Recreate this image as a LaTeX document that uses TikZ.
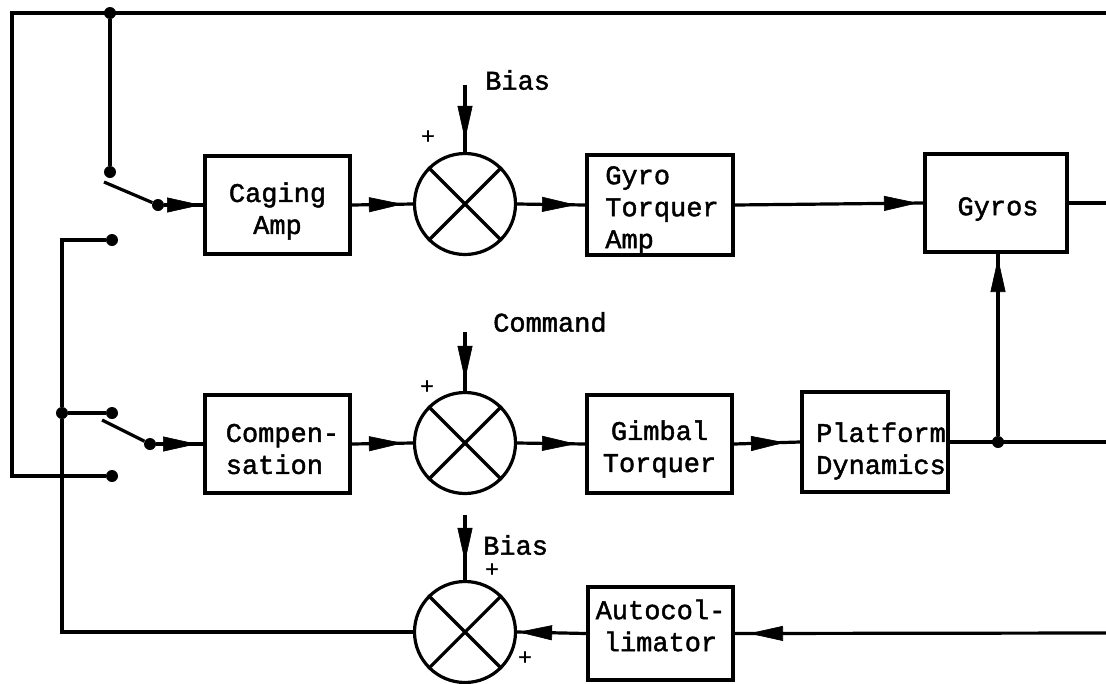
\documentclass[tikz,border=0pt]{standalone}
\usepackage{fontspec}
\newfontfamily\tw{Liberation Mono}[FakeBold=1.6]
\usetikzlibrary{arrows.meta,decorations.markings}

\tikzset{
  wire/.style={line width=3.2pt},
  blk/.style={draw, line width=4pt, rectangle, inner sep=0pt},
  txt/.style={font=\tw\fontsize{27}{32}\selectfont, inner sep=0pt},
  sumj/.style={draw, circle, line width=3.2pt, minimum size=101pt, inner sep=0pt},
  dot/.style={circle, fill, inner sep=0pt, minimum size=12pt},
  pls/.style={font=\tw\fontsize{22}{22}\selectfont, inner sep=0pt},
  arr/.style={postaction={decorate}, decoration={markings,
    mark=at position #1 with {\arrow{Triangle[length=34pt,width=15pt,line width=0.6pt]}}}},
}

\newcommand{\crossout}[1]{%
  \draw[line width=3.2pt] (#1.45) -- (#1.225) (#1.135) -- (#1.315);}

\begin{document}
\begin{tikzpicture}[x=1pt,y=-1pt]
\useasboundingbox (0,0) rectangle (1106,683);

% blocks
\node[blk, minimum width=145pt, minimum height=98pt] (cage) at (277.5,205) {};
\node[blk, minimum width=146pt, minimum height=100pt] (gta) at (660,205) {};
\node[blk, minimum width=142pt, minimum height=98pt] (gyros) at (996,203) {};
\node[blk, minimum width=145pt, minimum height=98pt] (comp) at (277.5,444) {};
\node[blk, minimum width=145pt, minimum height=98pt] (gim) at (659.5,444) {};
\node[blk, minimum width=146pt, minimum height=100pt] (plat) at (875,442) {};
\node[blk, minimum width=145pt, minimum height=93pt] (auto) at (660.5,633.5) {};

% block captions
\node[txt, align=center] (tcage) at (277.5,211) {Caging\\Amp};
\node[txt, align=left] (tgta) at (662,210) {Gyro\\Torquer\\Amp};
\node[txt] (tgyros) at (998,209) {Gyros};
\node[txt, align=left] (tcomp) at (282.5,449) {Compen-\\sation};
\node[txt, align=center] (tgim) at (659.5,449) {Gimbal\\Torquer};
\node[txt, align=left] (tplat) at (881,451) {Platform\\Dynamics};
\node[txt, align=center] (tauto) at (660.5,625.5) {Autocol-\\limator};

% summing junctions
\node[sumj] (s1) at (465,204) {};
\node[sumj] (s2) at (465,443) {};
\node[sumj] (s3) at (465,632) {};
\crossout{s1}
\crossout{s2}
\crossout{s3}

% junction and switch-contact dots
\node[dot] (d0) at (110,13) {};
\node[dot] (c1) at (110,172) {};
\node[dot] (p1) at (158,205) {};
\node[dot] (c2) at (112,240) {};
\node[dot] (d1) at (62,413) {};
\node[dot] (c3) at (112,413) {};
\node[dot] (p2) at (150,444) {};
\node[dot] (c4) at (112,476) {};
\node[dot] (d2) at (998,442) {};

% free ends and corners
\coordinate (eTop) at (1106,13);
\coordinate (cTL) at (12,13);
\coordinate (eGy) at (1106,203);
\coordinate (ePl) at (1106,442);
\coordinate (eBot) at (1106,633);
\coordinate (b1) at (104,182);
\coordinate (b2) at (102,420);
\coordinate (in1) at (465,85);
\coordinate (in2) at (465,332);
\coordinate (in3) at (465,515);

% input labels and signs
\node[txt, anchor=west] (lb1) at (485,80) {Bias};
\node[txt, anchor=west] (lb2) at (493,322) {Command};
\node[txt, anchor=west] (lb3) at (483,545) {Bias};
\node[pls] (pl1) at (428,137) {+};
\node[pls] (pl2) at (427,387) {+};
\node[pls] (pl3) at (492,570) {+};
\node[pls] (pl4) at (525,658) {+};

% outer loops
\draw[wire] (eTop) -- (cTL) |- (c4);
\draw[wire] (d0) -- (c1);
\draw[wire] (c2) -| (d1) |- (s3.west);
\draw[wire] (d1) -- (c3);

% switch blades
\draw[wire] (b1) -- (p1);
\draw[wire] (b2) -- (p2);

% forward paths
\draw[wire, arr=-2pt] (p1) -- (p1 -| cage.west);
\draw[wire, arr=-10pt] (cage.east) -- (s1.west);
\draw[wire, arr=-9pt] (s1.east) -- (gta.west);
\draw[wire, arr=-5pt] (gta.east) -- (gyros.west);
\draw[wire] (gyros.east) -- (eGy);

\draw[wire, arr=-6pt] (p2) -- (p2 -| comp.west);
\draw[wire, arr=-10pt] (comp.east) -- (s2.west);
\draw[wire, arr=-9pt] (s2.east) -- (gim.west);
\draw[wire, arr=-15pt] (gim.east) -- (plat.west);
\draw[wire] (plat.east) -- (ePl);
\draw[wire, arr=-4pt] (d2) -- (d2 |- gyros.south);

% external inputs
\draw[wire, arr=-12pt] (in1) -- (s1.north);
\draw[wire, arr=-11pt] (in2) -- (s2.north);
\draw[wire, arr=-18pt] (in3) -- (s3.north);

% return path through the autocollimator
\draw[wire, arr=-14pt] (eBot) -- (auto.east);
\draw[wire, arr=-1pt] (auto.west) -- (s3.east);
\end{tikzpicture}
\end{document}
